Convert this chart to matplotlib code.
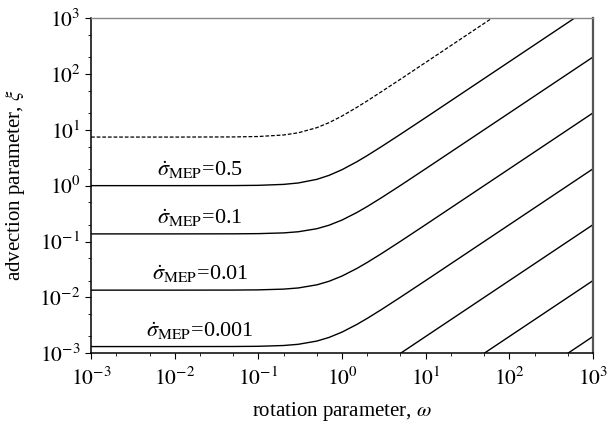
import matplotlib
matplotlib.use('Agg')
import matplotlib.pyplot as plt
from matplotlib.ticker import LogLocator, NullFormatter

plt.rcParams['font.family'] = ['Liberation Serif', 'DejaVu Serif']
plt.rcParams['mathtext.fontset'] = 'stix'

# values (log-log)
omega = [0.001, 0.01, 0.05, 0.1, 0.2, 0.3, 0.5, 0.7, 1, 1.5, 2, 3, 5, 10, 100, 1000]
xi_dashed = [7.4, 7.4, 7.44, 7.57, 8.06, 8.82, 10.9, 13.4, 17.6, 25.1, 32.8, 48.6, 80.3, 160, 1600, 16000]
xi_05 = [1.0, 1.0, 1.003, 1.013, 1.053, 1.116, 1.296, 1.528, 1.929, 2.669, 3.448, 5.05, 8.31, 16.5, 165, 1650]
xi_01 = [0.137, 0.137, 0.1374, 0.1385, 0.1427, 0.1496, 0.1696, 0.1959, 0.2424, 0.3298, 0.4228, 0.6154, 1.009, 2.005, 20, 200]
xi_001 = [0.0135, 0.0135, 0.01354, 0.01365, 0.01408, 0.01477, 0.0168, 0.01945, 0.02413, 0.0329, 0.04222, 0.0615, 0.1009, 0.2005, 2.0, 20]
xi_0001 = [0.00132, 0.00132, 0.001324, 0.001335, 0.001379, 0.00145, 0.001656, 0.001924, 0.002396, 0.003278, 0.004212, 0.006143, 0.01009, 0.02004, 0.2, 2.0]

# the lower-right curves are already on their asymptotes inside the frame
omega_a = [1, 10, 100, 1000]
xi_a = [2e-4, 2e-3, 2e-2, 0.2]
omega_b = [10, 100, 1000]
xi_b = [2e-4, 2e-3, 2e-2]
omega_c = [100, 1000]
xi_c = [2e-4, 2e-3]

labels = ['0.5', '0.1', '0.01', '0.001']
plateaus = [xi_05, xi_01, xi_001, xi_0001]

decades = [1e-3, 1e-2, 1e-1, 1e0, 1e1, 1e2, 1e3]
decade_labels = [r'$10^{-3}$', r'$10^{-2}$', r'$10^{-1}$', r'$10^{0}$', r'$10^{1}$', r'$10^{2}$', r'$10^{3}$']

fig = plt.figure(figsize=(6.11, 4.28), dpi=100)
ax = fig.add_axes([0.149, 0.1745, 0.8215, 0.7835])

ax.plot(omega, xi_dashed, 'k--', lw=0.9, dashes=(3, 1.5))
for ys in plateaus:
    ax.plot(omega, ys, 'k-', lw=1.0)
ax.plot(omega_a, xi_a, 'k-', lw=1.0)
ax.plot(omega_b, xi_b, 'k-', lw=1.0)
ax.plot(omega_c, xi_c, 'k-', lw=1.0)

for lab, ys in zip(labels, plateaus):
    ax.text(0.02, ys[0] * 1.22, r'$\dot{\sigma}_{\rm MEP}$=' + lab,
            ha='center', va='bottom', fontsize=16)

ax.set_xscale('log')
ax.set_yscale('log')
ax.set_xlim(1e-3, 1e3)
ax.set_ylim(1e-3, 1e3)

ax.set_xticks(decades, decade_labels)
ax.set_yticks(decades, decade_labels)
for a in (ax.xaxis, ax.yaxis):
    a.set_minor_locator(LogLocator(base=10, subs=[2, 5], numticks=10))
    a.set_minor_formatter(NullFormatter())
ax.tick_params(which='major', direction='out', length=4.5, width=0.8, labelsize=15.5, colors='black')
ax.tick_params(which='minor', direction='out', length=2.2, width=0.6)
ax.tick_params(axis='x', pad=6)
ax.tick_params(axis='y', pad=3)

ax.set_xlabel(r'rotation parameter, $\omega$', fontsize=15, labelpad=7)
ax.set_ylabel(r'advection parameter, $\xi$', fontsize=15, labelpad=9)

ax.spines['left'].set_linewidth(1.1)
ax.spines['bottom'].set_linewidth(1.1)
ax.spines['top'].set_color('#888888')
ax.spines['top'].set_linewidth(1.0)
ax.spines['right'].set_color('#555555')
ax.spines['right'].set_linewidth(1.6)

fig.savefig('out.png', dpi=100)
